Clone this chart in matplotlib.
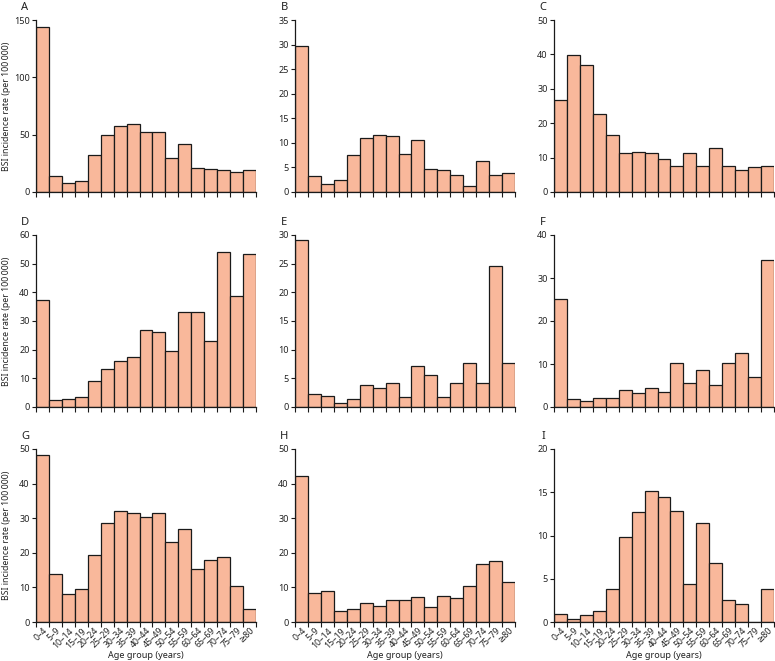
import numpy as np
import matplotlib
matplotlib.use("Agg")
import matplotlib.pyplot as plt

plt.rcParams['font.family'] = ['Noto Sans', 'DejaVu Sans']

age_groups = ['0–4', '5–9', '10–14', '15–19', '20–24', '25–29', '30–34', '35–39',
              '40–44', '45–49', '50–54', '55–59', '60–64', '65–69', '70–74', '75–79', '≥80']

panel_A = [143.6, 13.9, 7.5, 9.3, 32.5, 49.3, 57.4, 58.9, 52.2, 52.5, 29.3, 42.1, 21.2, 19.7, 18.9, 17.7, 18.9]
panel_B = [29.7, 3.2, 1.56, 2.5, 7.6, 10.9, 11.7, 11.3, 7.65, 10.6, 4.7, 4.5, 3.45, 1.3, 6.3, 3.5, 3.9]
panel_C = [26.8, 39.7, 37.0, 22.6, 16.6, 11.3, 11.6, 11.2, 9.6, 7.5, 11.2, 7.5, 12.8, 7.7, 6.4, 7.2, 7.7]
panel_D = [37.5, 2.4, 2.8, 3.6, 8.9, 13.2, 16.1, 17.6, 26.7, 26.0, 19.5, 33.0, 33.0, 23.1, 54.2, 38.6, 53.5]
panel_E = [29.2, 2.2, 1.97, 0.7, 1.33, 3.9, 3.3, 4.1, 1.7, 7.1, 5.6, 1.7, 4.2, 7.7, 4.2, 24.6, 7.66]
panel_F = [25.1, 1.86, 1.4, 2.1, 2.0, 3.95, 3.3, 4.5, 3.4, 10.3, 5.6, 8.5, 5.1, 10.3, 12.5, 7.0, 34.3]
panel_G = [48.3, 13.9, 8.2, 9.4, 19.5, 28.7, 32.0, 31.4, 30.4, 31.6, 23.1, 26.9, 15.2, 18.0, 18.8, 10.5, 3.8]
panel_H = [42.3, 8.4, 8.9, 3.2, 3.9, 5.5, 4.5, 6.4, 6.4, 7.2, 4.4, 7.4, 6.8, 10.3, 16.7, 17.6, 11.5]
panel_I = [0.97, 0.3, 0.8, 1.24, 3.87, 9.8, 12.7, 15.2, 14.5, 12.8, 4.4, 11.4, 6.8, 2.6, 2.1, 0.0, 3.8]

panels = [('A', panel_A, 150, 50), ('B', panel_B, 35, 5), ('C', panel_C, 50, 10),
          ('D', panel_D, 60, 10), ('E', panel_E, 30, 5), ('F', panel_F, 40, 10),
          ('G', panel_G, 50, 10), ('H', panel_H, 50, 10), ('I', panel_I, 20, 5)]

fill = '#F9B89B'
txt = '#222222'

fig = plt.figure(figsize=(7.75, 6.61), dpi=100)

lefts = [36, 295, 554]
tops = [20, 235, 449]
bottoms = [192, 407, 622]
W, H = 775, 661

x = np.arange(len(age_groups))
for i, (letter, vals, ymax, step) in enumerate(panels):
    r, c = divmod(i, 3)
    ax = fig.add_axes([lefts[c] / W, 1 - bottoms[r] / H, 220 / W, (bottoms[r] - tops[r]) / H])
    ax.bar(x, vals, width=1.0, color=fill, edgecolor='#1a1a1a', linewidth=0.9)
    ax.set_xlim(-0.5, len(age_groups) - 0.5)
    ax.set_ylim(0, ymax)
    ax.set_yticks(np.arange(0, ymax + 0.1, step))
    ax.spines['top'].set_visible(False)
    ax.spines['right'].set_visible(False)
    for s in ('left', 'bottom'):
        ax.spines[s].set_linewidth(0.9)
        ax.spines[s].set_color('#1a1a1a')
    ax.tick_params(axis='y', labelsize=6.5, length=3, width=0.8, pad=1.5, colors='#1a1a1a', labelcolor=txt)
    ax.set_xticks(np.arange(-0.5, len(age_groups), 1.0), minor=True)
    ax.tick_params(axis='x', which='minor', length=3.5, width=0.8, color='#1a1a1a')
    ax.set_xticks(x)
    ax.tick_params(axis='x', which='major', length=0, pad=3)
    if r == 2:
        ax.set_xticklabels(age_groups, rotation=45, ha='right', rotation_mode='anchor',
                           fontsize=6.3, color=txt)
        ax.set_xlabel('Age group (years)', fontsize=6.5, color=txt, labelpad=1)
    else:
        ax.set_xticklabels([])
    if c == 0:
        ax.set_ylabel('BSI incidence rate (per 100\u2009000)', fontsize=6.3, color=txt)
        ax.yaxis.set_label_coords(-0.112, 0.5)
    ax.text(-0.05, 1.04, letter, transform=ax.transAxes, fontsize=8, fontweight='bold',
            color=txt, ha='center', va='bottom')

fig.savefig('out.png', dpi=100)
